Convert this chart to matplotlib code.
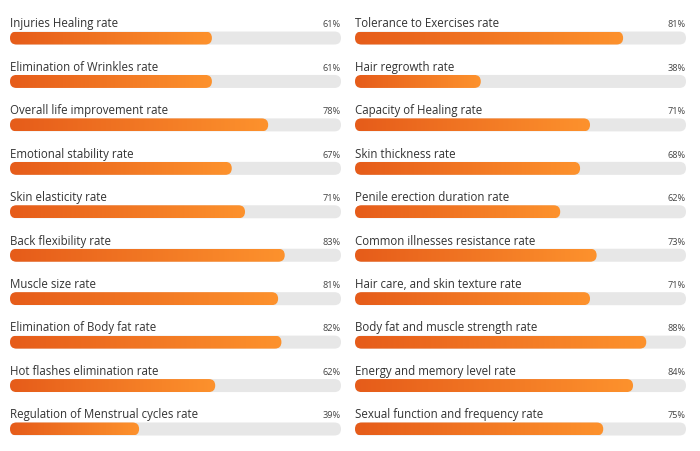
import matplotlib.pyplot as plt
import numpy as np
from matplotlib.patches import FancyBboxPatch
from matplotlib.colors import LinearSegmentedColormap

left_labels = [
    "Injuries Healing rate", "Elimination of Wrinkles rate", "Overall life improvement rate",
    "Emotional stability rate", "Skin elasticity rate", "Back flexibility rate",
    "Muscle size rate", "Elimination of Body fat rate", "Hot flashes elimination rate",
    "Regulation of Menstrual cycles rate",
]
left_values = [61, 61, 78, 67, 71, 83, 81, 82, 62, 39]

right_labels = [
    "Tolerance to Exercises rate", "Hair regrowth rate", "Capacity of Healing rate",
    "Skin thickness rate", "Penile erection duration rate", "Common illnesses resistance rate",
    "Hair care, and skin texture rate", "Body fat and muscle strength rate",
    "Energy and memory level rate", "Sexual function and frequency rate",
]
right_values = [81, 38, 71, 68, 62, 73, 71, 88, 84, 75]

W, H = 700, 451
BAR_PX = 13
cmap = LinearSegmentedColormap.from_list("orange", ["#e65c1a", "#fd922d"])
grad = np.linspace(0, 1, 256).reshape(1, -1)

plt.rcParams['font.family'] = ['Open Sans', 'DejaVu Sans']
fig = plt.figure(figsize=(W / 100, H / 100), dpi=100)
fig.patch.set_facecolor("white")


def draw_column(x0, x1, labels, values):
    ax = fig.add_axes([x0 / W, 0, (x1 - x0) / W, 1])
    ax.set_axis_off()
    ytop = -38 / 43.44
    ybot = 9 + (H - 429) / 43.44
    ax.set_xlim(0, 100)
    ax.set_ylim(ybot, ytop)

    px_x = (x1 - x0) / 100
    px_y = H / (ybot - ytop)
    h = BAR_PX / px_y
    r = (BAR_PX / 2) / px_x
    aspect = (h / 2) / r

    for i, (lab, v) in enumerate(zip(labels, values)):
        track = FancyBboxPatch((0, i - h / 2), 100, h,
                               boxstyle=f"round,pad=0,rounding_size={r}",
                               mutation_aspect=aspect, fc="#e7e7e7", ec="none", zorder=1)
        ax.add_patch(track)
        bar = FancyBboxPatch((0, i - h / 2), v, h,
                             boxstyle=f"round,pad=0,rounding_size={r}",
                             mutation_aspect=aspect, fc="none", ec="none", zorder=1)
        ax.add_patch(bar)
        im = ax.imshow(grad, cmap=cmap, aspect="auto", zorder=2,
                       extent=[0, v, i + h / 2, i - h / 2], interpolation="bilinear")
        im.set_clip_path(bar)
        ax.text(0, i - 0.245, lab, fontsize=8.3, color="#333333", va="baseline", ha="left")
        ax.text(100, i - 0.245, f"{v}%", fontsize=6.6, color="#444444", va="baseline", ha="right")

    ax.set_xlim(0, 100)
    ax.set_ylim(ybot, ytop)


draw_column(10, 341, left_labels, left_values)
draw_column(355, 686, right_labels, right_values)

fig.savefig("out.png", dpi=100)
